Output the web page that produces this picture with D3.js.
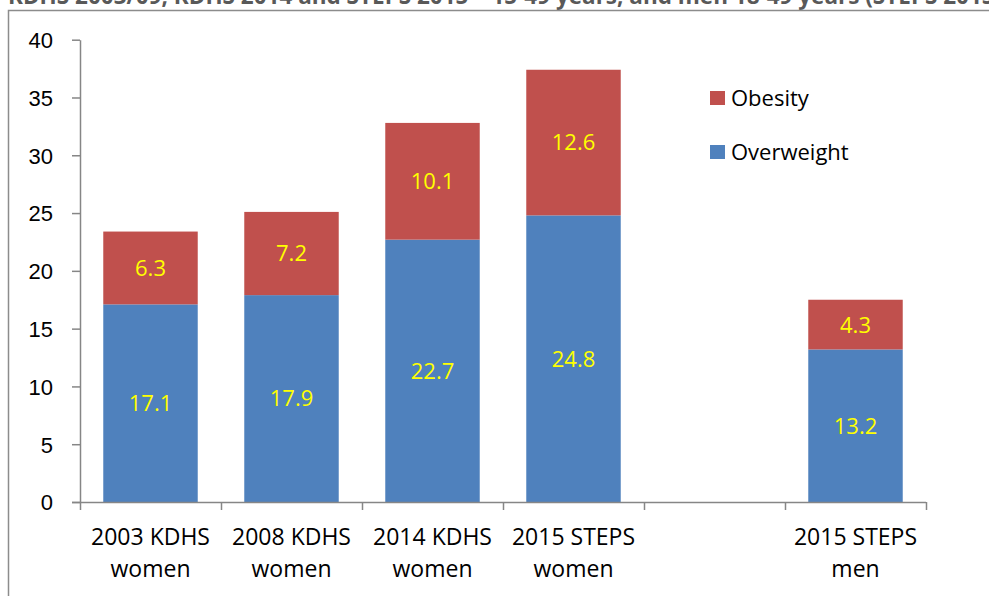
<!DOCTYPE html>
<html>
<head>
<meta charset="utf-8">
<script src="https://cdn.jsdelivr.net/npm/d3@7"></script>
<style>
  body { margin: 0; background: #fff; }
  svg { display: block; font-family: "Open Sans", sans-serif; }
</style>
</head>
<body>
<script>
(function(){
    //chart data
    var categories = ["2003 KDHS|women", "2008 KDHS|women", "2014 KDHS|women", "2015 STEPS|women", "", "2015 STEPS|men"];
    var overweight = [17.1, 17.9, 22.7, 24.8, null, 13.2];
    var obesity = [6.3, 7.2, 10.1, 12.6, null, 4.3];
    var yTicks = [0, 5, 10, 15, 20, 25, 30, 35, 40];
    var seriesNames = ["Obesity", "Overweight"];
    var colors = {Overweight: "#4F81BD", Obesity: "#C0504D"};

    var width = 989, height = 596;
    var left = 80, right = 926, top = 39.7, bottom = 502;

    var svg = d3.select("body").append("svg")
        .attr("width", width)
        .attr("height", height);

    //title cut off at top of picture
    svg.append("text")
        .attr("x", 8)
        .attr("y", 4)
        .style("font-size", "22.5px")
        .style("font-weight", "bold")
        .style("fill", "#595959")
        .text("KDHS 2003/09, KDHS 2014 and STEPS 2015 \u2013 15-49 years, and men 18-49 years (STEPS 2015)");

    //chart frame
    svg.append("path")
        .attr("d", "M8.5," + height + "V10.5H" + width)
        .attr("fill", "none")
        .attr("stroke", "#8c8c8c")
        .attr("stroke-width", 1.5);

    var x = d3.scaleBand()
        .domain(d3.range(categories.length))
        .range([left, right])
        .paddingInner(0.33)
        .paddingOuter(0.165);

    var y = d3.scaleLinear()
        .domain([0, 40])
        .range([bottom, top]);

    //stack the series
    var rows = categories.map(function(c, i){
        return {i: i, Overweight: overweight[i] || 0, Obesity: obesity[i] || 0};
    });
    var stack = d3.stack().keys(["Overweight", "Obesity"])(rows);

    var layers = svg.selectAll(".layer")
        .data(stack)
        .enter()
        .append("g")
        .attr("class", "layer")
        .attr("fill", function(d){ return colors[d.key]; });

    layers.selectAll("rect")
        .data(function(d){ return d.filter(function(p){ return p[1] > p[0]; }); })
        .enter()
        .append("rect")
        .attr("x", function(d){ return x(d.data.i); })
        .attr("width", x.bandwidth())
        .attr("y", function(d){ return y(d[1]); })
        .attr("height", function(d){ return y(d[0]) - y(d[1]); });

    //value labels
    layers.selectAll("text")
        .data(function(d){
            var key = d.key;
            return d.filter(function(p){ return p[1] > p[0]; })
                .map(function(p){ return {p: p, v: p.data[key]}; });
        })
        .enter()
        .append("text")
        .attr("x", function(d){ return x(d.p.data.i) + x.bandwidth() / 2; })
        .attr("y", function(d){ return y((d.p[0] + d.p[1]) / 2); })
        .attr("dy", "0.36em")
        .attr("text-anchor", "middle")
        .style("font-size", "22px")
        .style("fill", "#FFFF00")
        .text(function(d){ return d.v.toFixed(1); });

    //y axis
    var yAxis = svg.append("g")
        .attr("transform", "translate(" + left + ",0)")
        .call(d3.axisLeft(y).tickValues(yTicks).tickSize(8).tickPadding(19).tickSizeOuter(0));
    yAxis.selectAll("text").style("font-size", "22px").style("fill", "#000").attr("dy", "0.36em");

    //x axis with ticks at category boundaries
    var xb = d3.scaleLinear().domain([0, categories.length]).range([left, right]);
    var xAxis = svg.append("g")
        .attr("transform", "translate(0," + bottom + ")")
        .call(d3.axisBottom(xb).tickValues(d3.range(categories.length + 1)).tickSize(8).tickFormat("").tickSizeOuter(0));
    xAxis.select(".domain").attr("d", "M" + (left - 8) + ",0.5H" + right);

    svg.selectAll(".domain, .tick line").attr("stroke", "#868686").attr("stroke-width", 1.5);

    //category labels
    var cat = svg.selectAll(".cat")
        .data(categories)
        .enter()
        .append("text")
        .attr("class", "cat")
        .attr("text-anchor", "middle")
        .style("font-size", "23px")
        .attr("transform", function(d, i){ return "translate(" + (x(i) + x.bandwidth() / 2) + ",0)"; });
    cat.selectAll("tspan")
        .data(function(d){ return d ? d.split("|") : []; })
        .enter()
        .append("tspan")
        .attr("x", 0)
        .attr("y", function(d, i){ return 545 + i * 32; })
        .text(function(d){ return d; });

    //legend
    var legend = svg.selectAll(".legend")
        .data(seriesNames)
        .enter()
        .append("g")
        .attr("class", "legend")
        .attr("transform", function(d, i){ return "translate(710," + (98 + i * 54) + ")"; });
    legend.append("rect")
        .attr("x", 0)
        .attr("y", -7)
        .attr("width", 15)
        .attr("height", 14)
        .attr("fill", function(d){ return colors[d]; });
    legend.append("text")
        .attr("x", 21)
        .attr("dy", "0.36em")
        .style("font-size", "22px")
        .text(function(d){ return d; });
})();
</script>
</body>
</html>
